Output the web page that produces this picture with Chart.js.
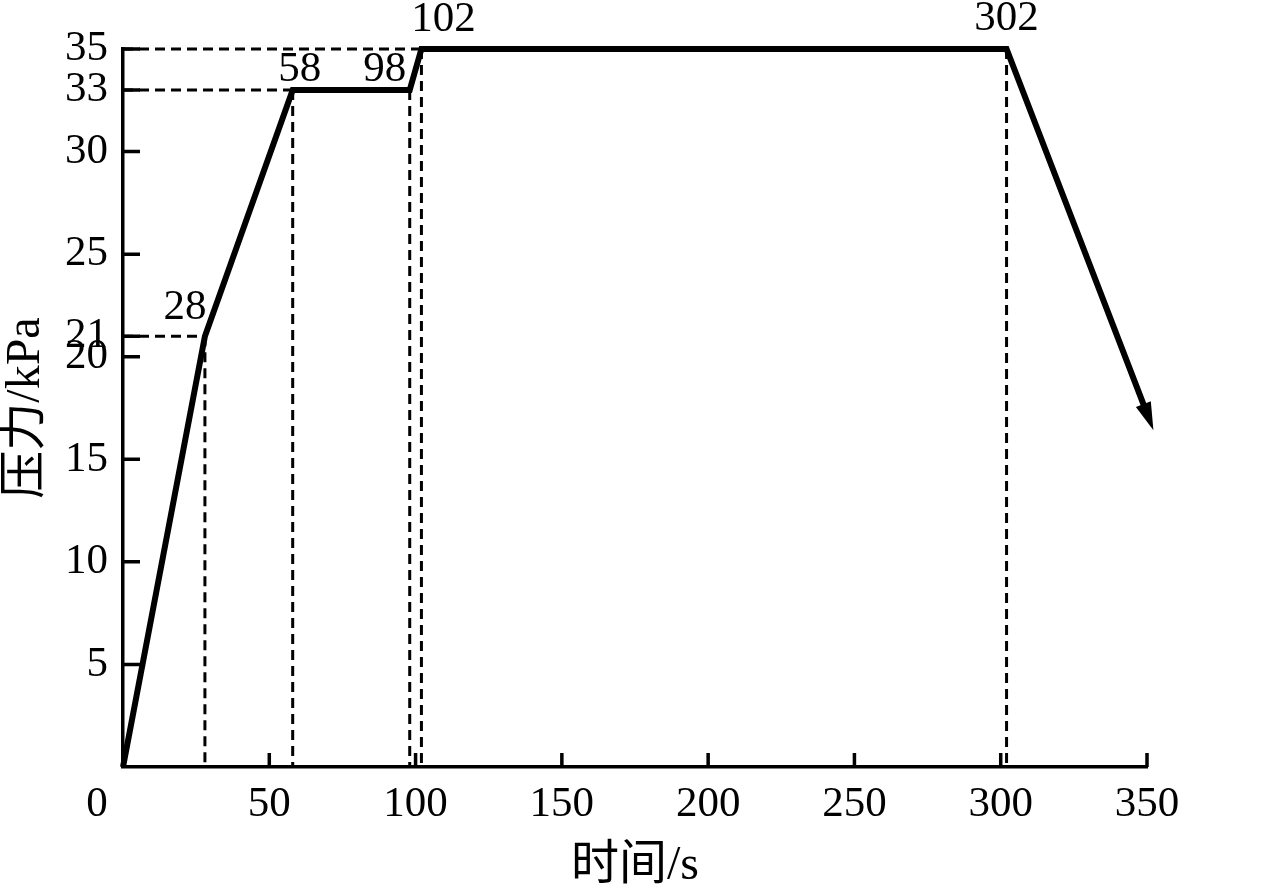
<!DOCTYPE html>
<html>
<head>
<meta charset="utf-8">
<script src="https://cdn.jsdelivr.net/npm/chart.js@4/dist/chart.umd.min.js"></script>
<style>
  html, body { margin: 0; padding: 0; background: #fff; }
  canvas { display: block; }
</style>
</head>
<body>
<canvas id="chart" width="1280" height="889"></canvas>
<script>
// pressure program: time (s) vs pressure (kPa)
const TIME     = [0, 28, 58, 98, 102, 302, 349];
const PRESSURE = [0, 21, 33, 33, 35,  35,  17.6];

const X_TICKS = [0, 50, 100, 150, 200, 250, 300, 350];
const Y_TICKS = [5, 10, 15, 20, 21, 25, 30, 33, 35];

// which key points get dashed guides / a time label
const H_GUIDE_IDX = [1, 2, 4];
const V_GUIDE_IDX = [1, 2, 3, 4, 5];
const LABEL_IDX   = [1, 2, 3, 4, 5];

const X_TITLE = "时间/s";
const Y_TITLE = "压力/kPa";

// label nudges (px) relative to the point, same order as LABEL_IDX
const LABEL_NUDGE = [[-20, -28], [7, -20], [-25, -20], [22, -29], [0, -30]];

const FONT = "'Liberation Serif', 'Times New Roman', 'Noto Sans CJK SC', serif";
const FS = 43;
const FS_TITLE = 48;
const INK = "#000";

const mainLine = TIME.map((t, i) => ({ x: t, y: PRESSURE[i] }));

const guides = [];
H_GUIDE_IDX.forEach(i => guides.push([{ x: 0, y: PRESSURE[i] }, { x: TIME[i], y: PRESSURE[i] }]));
V_GUIDE_IDX.forEach(i => guides.push([{ x: TIME[i], y: PRESSURE[i] }, { x: TIME[i], y: 0 }]));

const guideSets = guides.map(d => ({
  data: d, borderColor: INK, borderWidth: 3, borderDash: [10, 6],
  pointRadius: 0, order: 2, clip: false
}));

// inward tick marks, arrow head, point labels and the shifted "0"
const extras = {
  id: "extras",
  afterDatasetsDraw(chart) {
    const { ctx, chartArea: ca, scales: { x, y } } = chart;
    ctx.save();
    ctx.strokeStyle = INK;
    ctx.lineWidth = 3.5;
    ctx.beginPath();
    Y_TICKS.forEach(v => {
      const py = y.getPixelForValue(v);
      ctx.moveTo(ca.left, py); ctx.lineTo(ca.left + 17, py);
    });
    X_TICKS.slice(1).forEach(v => {
      const px = x.getPixelForValue(v);
      ctx.moveTo(px, ca.bottom); ctx.lineTo(px, ca.bottom - 14);
    });
    ctx.stroke();

    // arrow head at end of main line
    const pts = chart.getDatasetMeta(0).data;
    const a = pts[pts.length - 2], b = pts[pts.length - 1];
    const dx = b.x - a.x, dy = b.y - a.y, len = Math.hypot(dx, dy);
    const ux = dx / len, uy = dy / len;
    const tipX = b.x + ux * 26, tipY = b.y + uy * 26;
    const bx = b.x - ux * 2, by = b.y - uy * 2;
    ctx.fillStyle = INK;
    ctx.beginPath();
    ctx.moveTo(tipX, tipY);
    ctx.lineTo(bx - uy * 8, by + ux * 8);
    ctx.lineTo(bx + uy * 8, by - ux * 8);
    ctx.closePath();
    ctx.fill();

    // time labels at key points
    ctx.font = FS + "px " + FONT;
    ctx.textAlign = "center";
    ctx.textBaseline = "middle";
    LABEL_IDX.forEach((i, k) => {
      const px = x.getPixelForValue(TIME[i]) + LABEL_NUDGE[k][0];
      const py = y.getPixelForValue(PRESSURE[i]) + LABEL_NUDGE[k][1];
      ctx.fillText(String(TIME[i]), px, py);
    });

    // origin label sits left of the axis
    ctx.fillText("0", x.getPixelForValue(0) - 26, ca.bottom + 38);
    ctx.restore();
  }
};

new Chart(document.getElementById("chart"), {
  type: "line",
  data: {
    datasets: [
      { data: mainLine, borderColor: INK, borderWidth: 6, pointRadius: 0,
        borderJoinStyle: "miter", order: 1, clip: false },
      ...guideSets
    ]
  },
  options: {
    responsive: false,
    animation: false,
    devicePixelRatio: 1,
    parsing: false,
    layout: { padding: { top: 49, right: 133, bottom: 0, left: 0 } },
    plugins: { legend: { display: false }, tooltip: { enabled: false } },
    scales: {
      x: {
        type: "linear", min: 0, max: 350,
        afterBuildTicks: s => { s.ticks = X_TICKS.map(v => ({ value: v })); },
        afterFit: s => { s.height = 889 - 767; },
        ticks: {
          color: INK, padding: 12, maxRotation: 0, autoSkip: false,
          font: { family: FONT, size: FS },
          callback: v => (v === 0 ? "" : String(v))
        },
        grid: { display: false, drawTicks: false },
        border: { display: true, color: INK, width: 3.5 },
        title: { display: true, text: X_TITLE, color: INK,
                 font: { family: FONT, size: FS_TITLE }, padding: { top: 0, bottom: -6 } }
      },
      y: {
        type: "linear", min: 0, max: 35,
        afterBuildTicks: s => { s.ticks = Y_TICKS.map(v => ({ value: v })); },
        afterFit: s => { s.width = 123; },
        ticks: {
          color: INK, padding: 15, autoSkip: false,
          font: { family: FONT, size: FS }
        },
        grid: { display: false, drawTicks: false },
        border: { display: true, color: INK, width: 3.5 },
        title: { display: true, text: Y_TITLE, color: INK,
                 font: { family: FONT, size: FS_TITLE }, padding: { top: -2, bottom: 0 } }
      }
    }
  },
  plugins: [extras]
});
</script>
</body>
</html>
